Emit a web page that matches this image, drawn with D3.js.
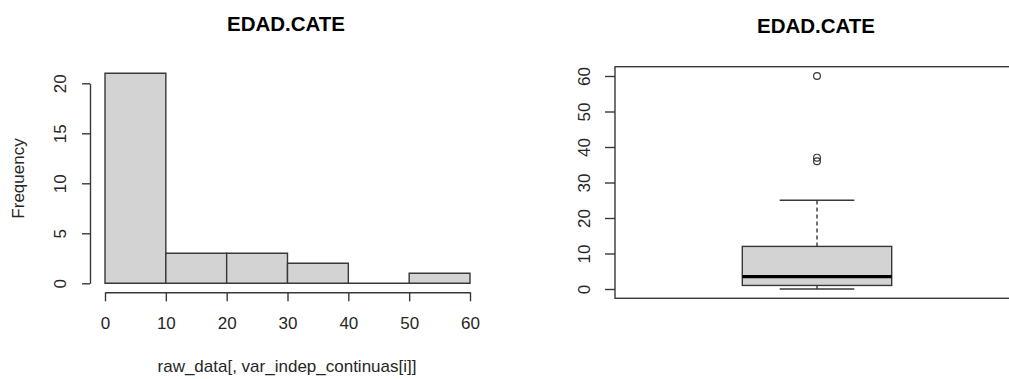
<!DOCTYPE html>
<html>
<head>
<meta charset="utf-8">
<script src="https://cdn.jsdelivr.net/npm/d3@7"></script>
<style>
  html, body { margin: 0; padding: 0; background: #fff; }
  svg { display: block; font-family: "Liberation Sans", Arial, sans-serif; }
</style>
</head>
<body>
<svg id="chart" width="1009" height="379"></svg>
<script>
// Histogram of EDAD.CATE
const binEdges = [0, 10, 20, 30, 40, 50, 60];
const binCounts = [21, 3, 3, 2, 0, 1];
const histXTicks = [0, 10, 20, 30, 40, 50, 60];
const histYTicks = [0, 5, 10, 15, 20];

// Boxplot summary of EDAD.CATE
const boxLowerWhisker = 0;
const boxQ1 = 1;
const boxMedian = 3.5;
const boxQ3 = 12;
const boxUpperWhisker = 25;
const boxOutliers = [36, 37, 60];
const boxYTicks = [0, 10, 20, 30, 40, 50, 60];

const title = "EDAD.CATE";
const histXLabel = "raw_data[, var_indep_continuas[i]]";
const histYLabel = "Frequency";

const svg = d3.select("#chart");
const ink = "#262626";
const lineCol = "#383838";
const fill = "#d3d3d3";

// ---------- Histogram ----------
const hx = d3.scaleLinear().domain([0, 60]).range([105, 470]);
const hy = d3.scaleLinear().domain([0, 20]).range([283.3, 83.3]);

const hist = svg.append("g");

// bars as closed paths so empty bins still show their outline
hist.selectAll("path.bar")
  .data(binCounts)
  .join("path")
  .attr("class", "bar")
  .attr("d", (d, i) => {
    const x0 = hx(binEdges[i]), x1 = hx(binEdges[i + 1]);
    const y0 = hy(0), y1 = hy(d);
    return `M${x0},${y0}L${x0},${y1}L${x1},${y1}L${x1},${y0}Z`;
  })
  .attr("fill", fill)
  .attr("stroke", lineCol)
  .attr("stroke-width", 1.4);

// x axis (detached below the plot)
const xAxisG = hist.append("g").attr("transform", "translate(0,292.3)");
xAxisG.call(d3.axisBottom(hx).tickValues(histXTicks).tickSize(9).tickPadding(0).tickSizeOuter(0));
xAxisG.select(".domain").attr("stroke", lineCol).attr("stroke-width", 1.4);
xAxisG.selectAll(".tick line").attr("stroke", lineCol).attr("stroke-width", 1.4);
xAxisG.selectAll(".tick text")
  .attr("font-size", 17).attr("fill", ink)
  .attr("font-family", "Liberation Sans, Arial, sans-serif")
  .attr("y", 0).attr("dy", 0)
  .attr("transform", "translate(0,37)");

// y axis
const yAxisG = hist.append("g").attr("transform", "translate(90,0)");
yAxisG.call(d3.axisLeft(hy).tickValues(histYTicks).tickSize(8).tickSizeOuter(0));
yAxisG.select(".domain").attr("stroke", lineCol).attr("stroke-width", 1.4);
yAxisG.selectAll(".tick line").attr("stroke", lineCol).attr("stroke-width", 1.4);
yAxisG.selectAll(".tick text")
  .attr("font-size", 17).attr("fill", ink)
  .attr("font-family", "Liberation Sans, Arial, sans-serif")
  .attr("x", null).attr("dy", null)
  .attr("text-anchor", "middle")
  .attr("transform", "translate(-24,0) rotate(-90)");

hist.append("text")
  .attr("x", 287).attr("y", 372)
  .attr("text-anchor", "middle")
  .attr("font-size", 17).attr("fill", ink)
  .text(histXLabel);

hist.append("text")
  .attr("transform", "translate(24,178.5) rotate(-90)")
  .attr("text-anchor", "middle")
  .attr("font-size", 17).attr("fill", ink)
  .text(histYLabel);

hist.append("text")
  .attr("x", 286).attr("y", 31)
  .attr("text-anchor", "middle")
  .attr("font-size", 20.5).attr("font-weight", "bold").attr("fill", "#000")
  .text(title);

// ---------- Boxplot ----------
const by = d3.scaleLinear().domain([0, 60]).range([289, 76]);
const boxCenter = 817;
const boxHalf = 74.7;
const capHalf = 37.3;

const box = svg.append("g");

// plot frame
box.append("rect")
  .attr("x", 615).attr("y", 66.7)
  .attr("width", 403).attr("height", 231.6)
  .attr("fill", "none")
  .attr("stroke", lineCol).attr("stroke-width", 1.4);

const byAxisG = box.append("g").attr("transform", "translate(605,0)");
byAxisG.call(d3.axisLeft(by).tickValues(boxYTicks).tickSize(0).tickSizeOuter(0));
byAxisG.select(".domain").remove();
byAxisG.selectAll(".tick line")
  .attr("x1", 0).attr("x2", 10)
  .attr("stroke", lineCol).attr("stroke-width", 1.4);
byAxisG.selectAll(".tick text")
  .attr("font-size", 17).attr("fill", ink)
  .attr("font-family", "Liberation Sans, Arial, sans-serif")
  .attr("x", null).attr("dy", null)
  .attr("text-anchor", "middle")
  .attr("transform", "translate(-15,0) rotate(-90)");

// whiskers
box.append("line")
  .attr("x1", boxCenter).attr("x2", boxCenter)
  .attr("y1", by(boxQ3)).attr("y2", by(boxUpperWhisker))
  .attr("stroke", lineCol).attr("stroke-width", 1.4)
  .attr("stroke-dasharray", "4,3");
box.append("line")
  .attr("x1", boxCenter).attr("x2", boxCenter)
  .attr("y1", by(boxQ1)).attr("y2", by(boxLowerWhisker))
  .attr("stroke", lineCol).attr("stroke-width", 1.4)
  .attr("stroke-dasharray", "4,3");
[boxUpperWhisker, boxLowerWhisker].forEach(v => {
  box.append("line")
    .attr("x1", boxCenter - capHalf).attr("x2", boxCenter + capHalf)
    .attr("y1", by(v)).attr("y2", by(v))
    .attr("stroke", lineCol).attr("stroke-width", 1.4);
});

// box body
box.append("rect")
  .attr("x", boxCenter - boxHalf).attr("y", by(boxQ3))
  .attr("width", boxHalf * 2).attr("height", by(boxQ1) - by(boxQ3))
  .attr("fill", fill)
  .attr("stroke", lineCol).attr("stroke-width", 1.4);

// median
box.append("line")
  .attr("x1", boxCenter - boxHalf).attr("x2", boxCenter + boxHalf)
  .attr("y1", by(boxMedian)).attr("y2", by(boxMedian))
  .attr("stroke", "#000").attr("stroke-width", 3.2);

// outliers
box.selectAll("circle.out")
  .data(boxOutliers)
  .join("circle")
  .attr("class", "out")
  .attr("cx", boxCenter).attr("cy", d => by(d))
  .attr("r", 3.4)
  .attr("fill", "none")
  .attr("stroke", lineCol).attr("stroke-width", 1.2);

box.append("text")
  .attr("x", 816).attr("y", 32.5)
  .attr("text-anchor", "middle")
  .attr("font-size", 20.5).attr("font-weight", "bold").attr("fill", "#000")
  .text(title);
</script>
</body>
</html>
